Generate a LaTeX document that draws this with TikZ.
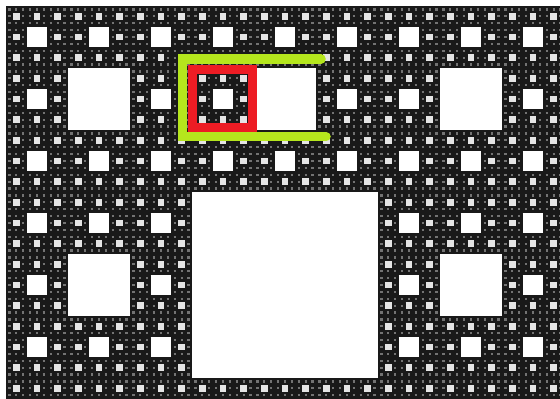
\documentclass[tikz,border=0pt]{standalone}
\definecolor{paintred}{HTML}{ED1C24}
\definecolor{paintlime}{HTML}{B5E61D}
\tikzset{
  carpet/.style={fill=black!90},
  hole/.style={line cap=butt},
  bracket/.style={draw=paintlime, line width=9.5pt, line cap=round, line join=miter},
  redbox/.style={draw=paintred, line width=9pt, line join=miter}
}
\begin{document}
\begin{tikzpicture}[x=1pt,y=-1pt]
\useasboundingbox (0,0) rectangle (560,399);
\clip (0,0) rectangle (560,399);
\fill[white] (0,0) rectangle (560,399);
\def\ox{6}
\def\carpetsize{558}
\fill[carpet] (\ox,\ox) rectangle ++(\carpetsize,\carpetsize);
\foreach \k/\n/\col in {5/81/white!45!black,4/27/white!90!black,3/9/white,2/3/white,1/1/white}{
  \pgfmathsetmacro\hh{\carpetsize/(3^\k)}
  \pgfmathsetmacro\gap{2*\hh}
  \pgfmathtruncatemacro\last{\n-1}
  \foreach \j in {0,...,\last}{
    \pgfmathsetmacro\yc{\ox+(3*\j+1.5)*\hh}
    \pgfmathsetmacro\xs{\ox+\hh}
    \pgfmathsetmacro\xe{\ox+\carpetsize}
    \ifdim\yc pt<405pt
      \draw[hole, draw=\col, line width=\hh pt, dash pattern=on \hh pt off \gap pt] (\xs,\yc) -- (\xe,\yc);
    \fi
  }
}
\draw[bracket] (321,59) -- (182.5,59) -- (182.5,136.7) -- (326,136.7);
\draw[redbox] (192,69.2) rectangle (252.8,127.2);
\end{tikzpicture}
\end{document}
